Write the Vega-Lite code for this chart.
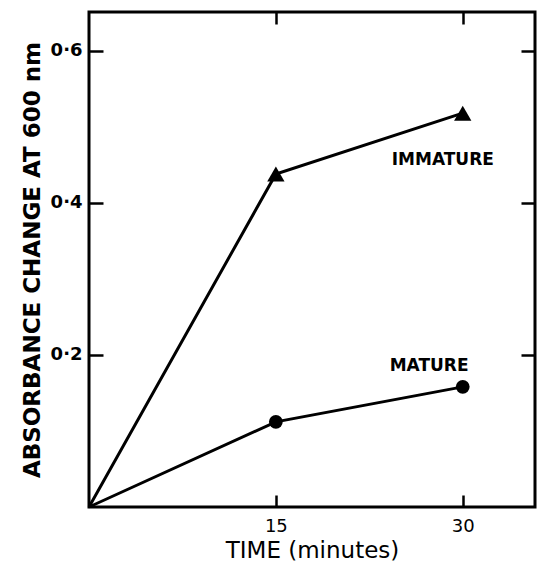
{
  "$schema": "https://vega.github.io/schema/vega-lite/v6.json",
  "width": 446,
  "height": 495,
  "autosize": "none",
  "padding": {"left": 89, "top": 12, "right": 2, "bottom": 59},
  "background": "white",
  "config": {
    "view": {"stroke": "black", "strokeWidth": 3},
    "font": "DejaVu Sans",
    "axis": {"grid": false, "domain": false, "tickColor": "black", "tickWidth": 2.5, "labelColor": "black", "titleColor": "black"}
  },
  "datasets": {
    "pts": [
      {"time": 0, "abs": 0.0, "group": "IMMATURE"},
      {"time": 15, "abs": 0.438, "group": "IMMATURE"},
      {"time": 30, "abs": 0.518, "group": "IMMATURE"},
      {"time": 0, "abs": 0.0, "group": "MATURE"},
      {"time": 15, "abs": 0.112, "group": "MATURE"},
      {"time": 30, "abs": 0.158, "group": "MATURE"}
    ],
    "labels": [
      {"time": 28.4, "abs": 0.457, "text": "IMMATURE"},
      {"time": 27.3, "abs": 0.186, "text": "MATURE"}
    ]
  },
  "layer": [
    {
      "data": {"name": "pts"},
      "mark": {"type": "line", "color": "black", "strokeWidth": 3},
      "encoding": {
        "x": {"field": "time", "type": "quantitative", "scale": {"domain": [0, 35.8], "nice": false},
          "axis": {"orient": "bottom", "values": [15, 30], "tickSize": -12, "labelPadding": 22, "labelFontSize": 18, "labelFontWeight": "normal", "title": "TIME (minutes)", "titleFontSize": 23, "titleFontWeight": "normal", "titlePadding": 4}},
        "y": {"field": "abs", "type": "quantitative", "scale": {"domain": [0, 0.651], "nice": false},
          "axis": {"orient": "left", "values": [0.2, 0.4, 0.6], "tickSize": -14, "labelPadding": 21, "labelFontSize": 18, "labelFontWeight": "bold", "labelExpr": "replace(format(datum.value, '.1f'), '.', '·')", "title": "ABSORBANCE CHANGE AT 600 nm", "titleFontSize": 23, "titleFontWeight": "bold", "titlePadding": 6}},
        "detail": {"field": "group"}
      }
    },
    {
      "data": {"name": "pts"},
      "transform": [{"filter": "datum.time > 0"}],
      "mark": {"type": "point", "filled": true, "color": "black", "opacity": 1},
      "encoding": {
        "x": {"field": "time", "type": "quantitative", "axis": {"orient": "top", "values": [15, 30], "tickSize": -12, "labels": false, "title": null}},
        "y": {"field": "abs", "type": "quantitative", "axis": {"orient": "right", "values": [0.2, 0.4, 0.6], "tickSize": -14, "labels": false, "title": null}},
        "shape": {"field": "group", "type": "nominal", "scale": {"domain": ["IMMATURE", "MATURE"], "range": ["triangle-up", "circle"]}, "legend": null},
        "size": {"field": "group", "type": "nominal", "scale": {"domain": ["IMMATURE", "MATURE"], "range": [300, 190]}, "legend": null}
      }
    },
    {
      "data": {"name": "labels"},
      "mark": {"type": "text", "fontSize": 17, "fontWeight": "bold", "color": "black"},
      "encoding": {
        "x": {"field": "time", "type": "quantitative", "axis": null},
        "y": {"field": "abs", "type": "quantitative", "axis": null},
        "text": {"field": "text"}
      }
    }
  ],
  "resolve": {"axis": {"x": "independent", "y": "independent"}}
}
